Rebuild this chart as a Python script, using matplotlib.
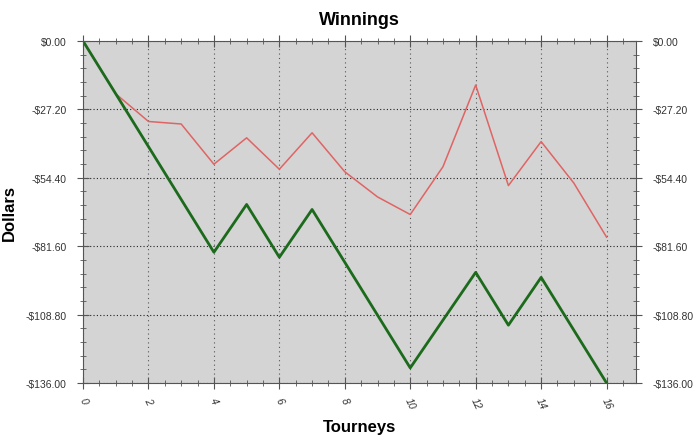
import numpy as np
import matplotlib.pyplot as plt
from matplotlib.ticker import MultipleLocator, FuncFormatter

plt.rcParams['font.family'] = ['Liberation Sans', 'DejaVu Sans']

# data
tourneys = list(range(17))
winnings_total = [0, -21, -42, -63, -84, -65, -86, -67, -88, -109, -130, -111, -92, -113, -94, -115, -136]
winnings_other = [0, -21, -32, -33, -49, -38.5, -51, -36.5, -52, -62, -69, -50, -17.5, -57.5, -40, -56.5, -78]

y_ticks = [0, -27.2, -54.4, -81.6, -108.8, -136.0]


def dollar(v, pos=None):
    if abs(v) < 1e-9:
        return '$0.00'
    return '-$%.2f' % abs(v) if v < 0 else '$%.2f' % v


fig = plt.figure(figsize=(7, 4.39), dpi=100)
ax = fig.add_axes([0.1186, 0.1253, 0.79, 0.779])
ax.set_facecolor('#d4d4d4')

ax.plot(tourneys, winnings_other, color='#e06464', lw=1.1)
ax.plot(tourneys, winnings_total, color='#1c6a1c', lw=2)

ax.set_xlim(0, 16.9)
ax.set_ylim(-136, 0)
ax.xaxis.set_major_locator(MultipleLocator(2))
ax.xaxis.set_minor_locator(MultipleLocator(0.5))
ax.set_yticks(y_ticks)
ax.yaxis.set_minor_locator(MultipleLocator(5.44))
ax.yaxis.set_major_formatter(FuncFormatter(dollar))

ax.grid(True, axis='y', which='major', color='#222222', linestyle=(0, (1, 2)), lw=0.8)
ax.grid(True, axis='x', which='major', color='#555555', linestyle=(0, (1, 3)), lw=0.8)

for s in ax.spines.values():
    s.set_color('#555555')
ax.tick_params(which='both', direction='inout', color='#555555',
               labelsize=7.5, labelcolor='#333333', right=True, top=True, labelright=True)
ax.tick_params(which='major', length=8)
ax.tick_params(which='minor', length=5)
ax.tick_params(axis='x', pad=5)
ax.tick_params(axis='y', pad=8)
for lbl in ax.get_xticklabels():
    lbl.set_rotation(-65)
    lbl.set_style('italic')

ax.set_title('Winnings', fontsize=13, fontweight='bold', pad=12)
ax.set_xlabel('Tourneys', fontsize=12, fontweight='bold')
ax.set_ylabel('Dollars', fontsize=12, fontweight='bold', labelpad=6)
ax.xaxis.label.set_va('center')
ax.xaxis.set_label_coords(0.5, -0.128)

fig.savefig('out.png', dpi=100)
